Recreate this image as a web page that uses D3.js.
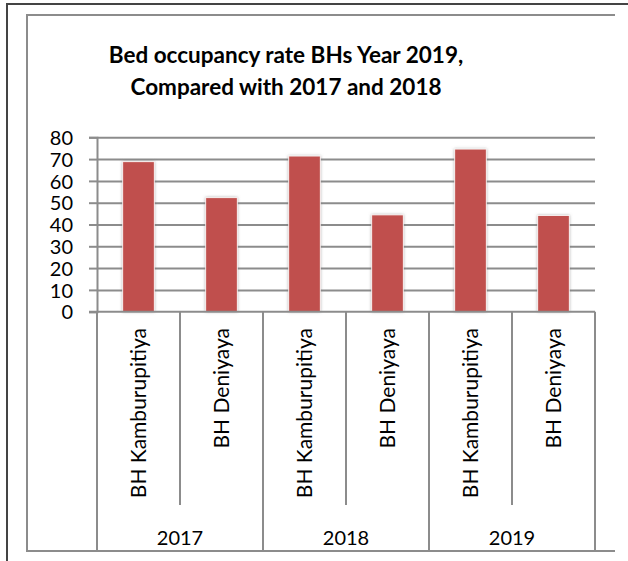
<!DOCTYPE html>
<html>
<head>
<meta charset="utf-8">
<script src="https://cdn.jsdelivr.net/npm/d3@7"></script>
<style>
  body { margin: 0; background: #fff; }
  svg { display: block; font-family: Lato, "Open Sans", sans-serif; }
</style>
</head>
<body>
<svg width="628" height="561"></svg>
<script>
const years = ["2017", "2018", "2019"];
const hospitals = ["BH Kamburupitiya", "BH Deniyaya"];
const kamburupitiya = [68.8, 71.4, 74.6];
const deniyaya = [52.3, 44.4, 44.1];
const yTicks = [0, 10, 20, 30, 40, 50, 60, 70, 80];

// flat list of bars, one per year/hospital pair
const bars = [];
years.forEach((yr, i) => {
    bars.push({ id: yr + "|" + hospitals[0], year: yr, name: hospitals[0], value: kamburupitiya[i] });
    bars.push({ id: yr + "|" + hospitals[1], year: yr, name: hospitals[1], value: deniyaya[i] });
});

const svg = d3.select("svg");
const plotLeft = 97, plotRight = 595, plotTop = 137.3, plotBottom = 311.7;
const labelBottom = 505, boxBottom = 551;
const grey = "#8c8c8c";

const x = d3.scaleBand().domain(bars.map(d => d.id)).range([plotLeft, plotRight]);
const xYear = d3.scaleBand().domain(years).range([plotLeft, plotRight]);
const y = d3.scaleLinear().domain([0, 80]).range([plotBottom, plotTop]);

const defs = svg.append("defs");
const f = defs.append("filter").attr("id", "shadow")
    .attr("x", "-30%").attr("y", "-10%").attr("width", "160%").attr("height", "120%");
f.append("feDropShadow").attr("dx", 0).attr("dy", 0).attr("stdDeviation", 1.6)
    .attr("flood-color", "#777").attr("flood-opacity", 0.55);

// outer frame and chart area frame
svg.append("path").attr("d", "M7,561V4H628").attr("fill", "none")
    .attr("stroke", "#444").attr("stroke-width", 2);
svg.append("path").attr("d", "M615,15H27V" + boxBottom + "H615").attr("fill", "none")
    .attr("stroke", grey).attr("stroke-width", 2);

// title
const title = svg.append("text").attr("text-anchor", "middle")
    .attr("font-weight", "bold").attr("font-size", 22.5).attr("fill", "#000");
title.append("tspan").attr("x", 286).attr("y", 63).text("Bed occupancy rate BHs Year 2019,");
title.append("tspan").attr("x", 286).attr("y", 95).text("Compared with 2017 and 2018");

// gridlines
svg.append("g")
    .attr("transform", `translate(${plotLeft},0)`)
    .call(d3.axisLeft(y).tickValues(yTicks.slice(1)).tickSize(-(plotRight - plotLeft)).tickFormat(""))
    .call(g => g.select(".domain").remove())
    .call(g => g.selectAll("line").attr("stroke", grey).attr("stroke-width", 2));

// y axis
svg.append("g")
    .attr("transform", `translate(${plotLeft},0)`)
    .call(d3.axisLeft(y).tickValues(yTicks).tickSize(8).tickPadding(16))
    .call(g => g.select(".domain").attr("stroke", grey).attr("stroke-width", 2))
    .call(g => g.selectAll("line").attr("stroke", grey).attr("stroke-width", 2))
    .call(g => g.selectAll("text").attr("font-family", "Lato").attr("font-size", 20)
        .attr("fill", "#000").attr("dy", "0.36em"));

// bars
const bw = x.bandwidth() * 0.38;
svg.append("g").selectAll("rect")
    .data(bars)
    .enter().append("rect")
    .attr("x", d => x(d.id) + (x.bandwidth() - bw) / 2)
    .attr("y", d => y(d.value))
    .attr("width", bw)
    .attr("height", d => y(0) - y(d.value))
    .attr("fill", "#c0504d")
    .attr("stroke", "#fff")
    .attr("stroke-width", 0.8)
    .attr("filter", "url(#shadow)");

// category axis line
svg.append("line").attr("x1", plotLeft - 8).attr("x2", plotRight)
    .attr("y1", y(0)).attr("y2", y(0))
    .attr("stroke", grey).attr("stroke-width", 2);

// boundaries between hospitals (short) and years (full height)
const inner = bars.filter(d => d.name === hospitals[1]).map(d => x(d.id));
svg.append("g").selectAll("line")
    .data(inner)
    .enter().append("line")
    .attr("x1", d => d).attr("x2", d => d)
    .attr("y1", y(0)).attr("y2", labelBottom)
    .attr("stroke", grey).attr("stroke-width", 2);

const outer = years.map(yr => xYear(yr)).concat([plotRight]);
svg.append("g").selectAll("line")
    .data(outer)
    .enter().append("line")
    .attr("x1", d => d).attr("x2", d => d)
    .attr("y1", y(0)).attr("y2", boxBottom)
    .attr("stroke", grey).attr("stroke-width", 2);

// rotated hospital labels
svg.append("g").selectAll("text")
    .data(bars)
    .enter().append("text")
    .attr("transform", d => `translate(${x(d.id) + x.bandwidth() / 2},328) rotate(-90)`)
    .attr("text-anchor", "end")
    .attr("dy", "0.35em")
    .attr("font-size", 21)
    .attr("fill", "#000")
    .text(d => d.name);

// year labels
svg.append("g").selectAll("text")
    .data(years)
    .enter().append("text")
    .attr("x", d => xYear(d) + xYear.bandwidth() / 2)
    .attr("y", 545)
    .attr("text-anchor", "middle")
    .attr("font-size", 20)
    .attr("fill", "#000")
    .text(d => d);
</script>
</body>
</html>
